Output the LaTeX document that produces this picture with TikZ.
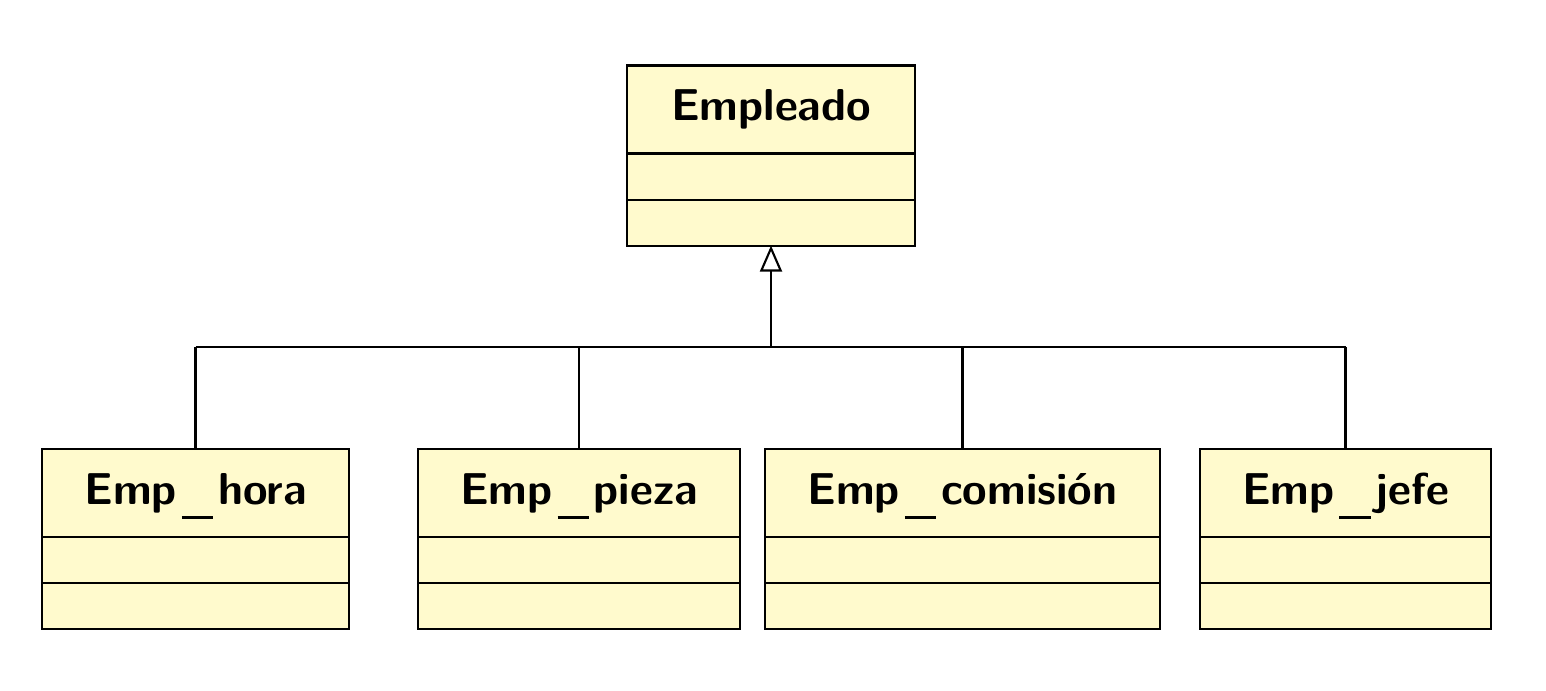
\documentclass[tikz,border=0pt]{standalone}
\usepackage{tikz}
\usetikzlibrary{arrows.meta,positioning}
\definecolor{classfill}{HTML}{FFFACD}
\newcommand{\usc}{\kern0.11em\smash{\rule[-0.34em]{0.7em}{0.07em}}\kern0.11em}
\tikzstyle{classtitle}=[draw,fill=classfill,line width=0.6pt,minimum height=0.88cm,inner sep=0pt,outer sep=0pt,font=\sffamily\bfseries\fontsize{12.7}{15}\selectfont]
\tikzstyle{classpart}=[draw,fill=classfill,line width=0.6pt,minimum height=0.46cm,inner sep=0pt,outer sep=0pt]
\tikzstyle{inherit}=[-{Triangle[open,width=0.22cm,length=0.26cm]},line width=0.6pt]
\tikzstyle{link}=[line width=0.6pt]

\begin{document}
\begin{tikzpicture}[x=0.01cm,y=0.01cm]

\fill [white] (0,0) rectangle (1546,690);
\useasboundingbox (0,0) rectangle (1546,690);

%%% Superclass

\node [classtitle,minimum width=2.88cm] (empleado) at (771,580.5) {Empleado};
\node [classpart,minimum width=2.88cm,below=0pt of empleado] (empleadoA) {};
\node [classpart,minimum width=2.88cm,below=0pt of empleadoA] (empleadoB) {};

%%% Subclasses

\node [classtitle,minimum width=3.07cm] (hora) at (195.5,197) {Emp\usc hora};
\node [classpart,minimum width=3.07cm,below=0pt of hora] (horaA) {};
\node [classpart,minimum width=3.07cm,below=0pt of horaA] (horaB) {};

\node [classtitle,minimum width=3.22cm] (pieza) at (579,197) {Emp\usc pieza};
\node [classpart,minimum width=3.22cm,below=0pt of pieza] (piezaA) {};
\node [classpart,minimum width=3.22cm,below=0pt of piezaA] (piezaB) {};

\node [classtitle,minimum width=3.95cm] (comision) at (962.5,197) {Emp\usc comisión};
\node [classpart,minimum width=3.95cm,below=0pt of comision] (comisionA) {};
\node [classpart,minimum width=3.95cm,below=0pt of comisionA] (comisionB) {};

\node [classtitle,minimum width=2.91cm] (jefe) at (1345.5,197) {Emp\usc jefe};
\node [classpart,minimum width=2.91cm,below=0pt of jefe] (jefeA) {};
\node [classpart,minimum width=2.91cm,below=0pt of jefeA] (jefeB) {};

%%% Generalisation

\coordinate (junction) at (771,343);

\draw [inherit] (junction) -- (empleadoB.south);

\draw [link] (hora.north |- junction) -- (jefe.north |- junction);

\foreach \sub in {hora,pieza,comision,jefe}
  \draw [link] (\sub.north) -- (\sub.north |- junction);

\end{tikzpicture}
\end{document}
